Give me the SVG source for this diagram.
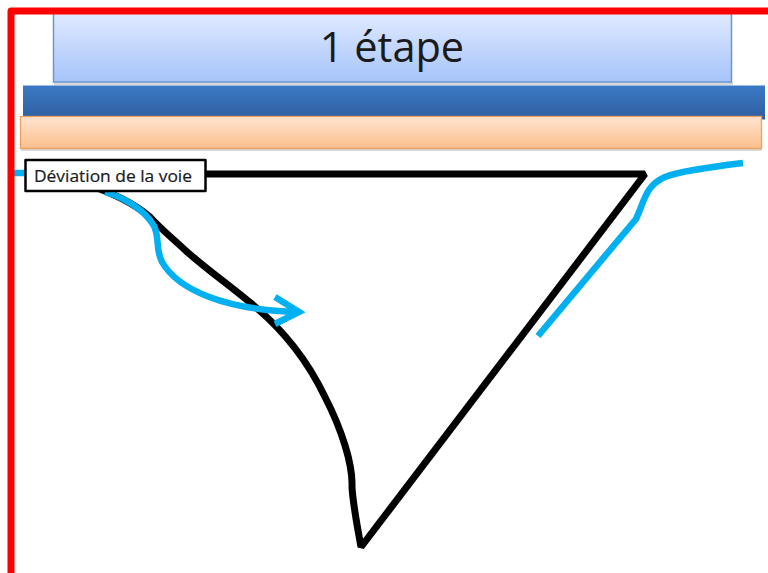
<svg xmlns="http://www.w3.org/2000/svg" width="768" height="573" viewBox="0 0 768 573">
<defs>
<linearGradient id="g1" x1="0" y1="0" x2="0" y2="1"><stop offset="0" stop-color="#e0eaff"/><stop offset="1" stop-color="#a6c4fa"/></linearGradient>
<linearGradient id="g2" x1="0" y1="0" x2="0" y2="1"><stop offset="0" stop-color="#3b78c6"/><stop offset="1" stop-color="#2f5f9f"/></linearGradient>
<linearGradient id="g3" x1="0" y1="0" x2="0" y2="1"><stop offset="0" stop-color="#ffe4d0"/><stop offset="1" stop-color="#fbbe8c"/></linearGradient>
</defs>
<style>
.blue{fill:none;stroke:#00b0f0;stroke-width:6.500}
.black{fill:none;stroke:#000;stroke-width:7}
.shadow{fill:#c8c8c8;opacity:.7}
text{font-family:"Open Sans","Liberation Sans",sans-serif}
</style>
<rect width="768" height="573" fill="#fff"/>
<g id="banner">
<rect class="shadow" x="54" y="82" width="679" height="3"/>
<rect x="53.500" y="13" width="678" height="69" fill="url(#g1)" stroke="#6b97cf" stroke-width="1.500"/>
<text x="392" y="62" font-size="41.500" text-anchor="middle" fill="#1a1a1a">1 étape</text>
</g>
<g id="bar-blue"><rect x="23" y="85.500" width="742" height="34" fill="url(#g2)"/></g>
<g id="bar-orange">
<rect class="shadow" x="21" y="149" width="741" height="2"/>
<rect x="20.500" y="116.500" width="741" height="32" fill="url(#g3)" stroke="#f0a060" stroke-width="1.300"/>
</g>
<g id="connectors">
<path class="black" d="M200 174H645L361 547C358 530 353 505 352 487C353 465 342 430 325 397C305 355 275 322 247 300C225 282 205 268 185 250C170 236 162 230 150 217C132 202 115 195 95 187" stroke-linejoin="bevel"/>
<path class="blue" d="M14 173H28"/>
<path class="blue" d="M105 192C125 198 145 210 154 226C160 238 155 248 162 262C178 290 225 310 298 312"/>
<path class="blue" d="M275 297L299 312L275 324"/>
<path class="blue" d="M743 163C710 167 680 171 665 177C645 186 645 200 636 219L538 336"/>
</g>
<g id="frame"><path d="M11 573V11H768" fill="none" stroke="#f00" stroke-width="7" stroke-linejoin="round"/></g>
<g id="label">
<rect x="25.500" y="160" width="180" height="31" fill="#fff" stroke="#000" stroke-width="2.500" stroke-linejoin="round"/>
<text x="34" y="182" font-size="16.500" fill="#1a1a1a" stroke="#1a1a1a" stroke-width=".2" textLength="158" lengthAdjust="spacingAndGlyphs">Déviation de la voie</text>
</g>
</svg>
